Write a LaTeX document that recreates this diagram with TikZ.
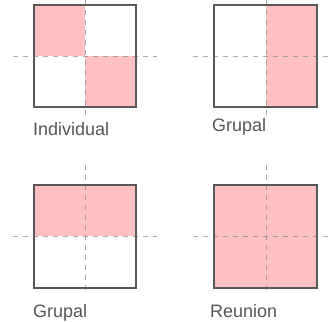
\documentclass[tikz,border=0pt]{standalone}
\usepackage{fontspec}
\setmainfont{Liberation Sans}
\definecolor{cellpink}{RGB}{255,192,194}
\definecolor{framegray}{RGB}{88,88,88}
\definecolor{guidegray}{RGB}{140,140,140}
\definecolor{textgray}{RGB}{85,85,85}
\tikzset{
  cell/.style={fill=cellpink},
  frame/.style={draw=framegray,line width=1.4pt},
  guide/.style={draw=guidegray,opacity=0.75,line width=0.9pt,dash pattern=on 5pt off 5pt},
  caption/.style={text=textgray,font=\fontsize{18}{20}\selectfont,anchor=base west,inner sep=0pt}
}
\begin{document}
\begin{tikzpicture}[x=1pt,y=-1pt]
  \useasboundingbox (0,0) rectangle (331,321);

  % Individual
  \fill[cell] (34,5) rectangle (85,56);
  \fill[cell] (85,56) rectangle (136,107);
  \draw[guide] (13,56) -- (157,56);
  \draw[guide] (85,-10) -- (85,118);
  \draw[frame] (34,5) rectangle (136,107);
  \node[caption] (individual) at (33,135) {Individual};

  % Grupal (columns)
  \fill[cell] (266,5) rectangle (317,107);
  \draw[guide] (193,56) -- (337,56);
  \draw[guide] (266,-10) -- (266,118);
  \draw[frame] (214,5) rectangle (317,107);
  \node[caption] (grupalA) at (212,131) {Grupal};

  % Grupal (rows)
  \fill[cell] (34,185) rectangle (136,236);
  \draw[guide] (13,236) -- (157,236);
  \draw[guide] (85,165) -- (85,293);
  \draw[frame] (34,185) rectangle (136,288);
  \node[caption] (grupalB) at (33,317) {Grupal};

  % Reunion
  \fill[cell] (214,185) rectangle (317,288);
  \draw[guide] (193,236) -- (337,236);
  \draw[guide] (266,165) -- (266,293);
  \draw[frame] (214,185) rectangle (317,288);
  \node[caption] (reunion) at (210,317) {Reunion};

\end{tikzpicture}
\end{document}
